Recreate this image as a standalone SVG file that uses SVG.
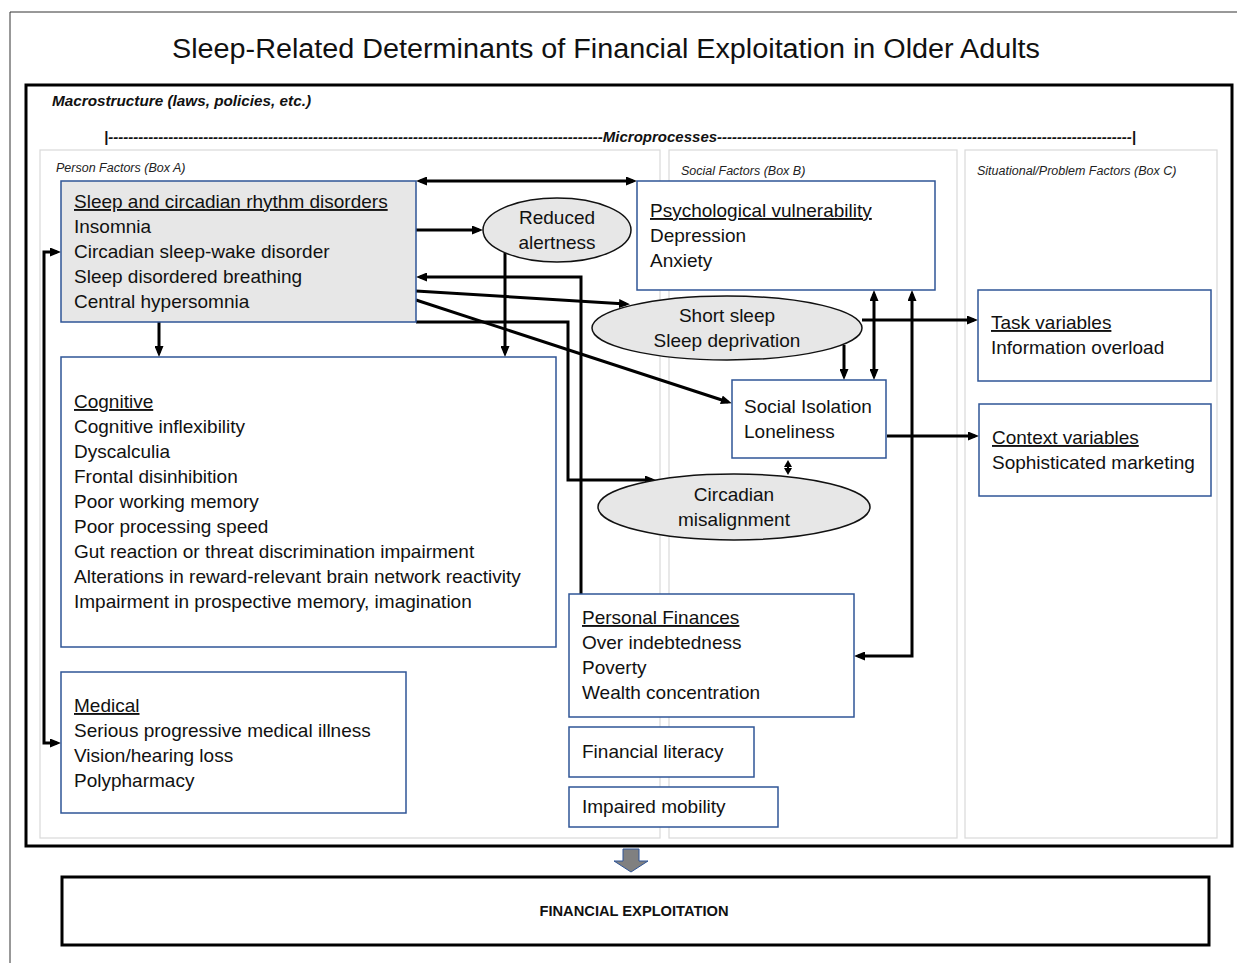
<svg xmlns="http://www.w3.org/2000/svg" width="1237" height="963" viewBox="0 0 1237 963">
<style>
.t{font-family:"Liberation Sans",Arial,sans-serif;font-size:19px;fill:#111}
.u{text-decoration:underline}
.c{text-anchor:middle}
.lab{font-family:"Liberation Sans",Arial,sans-serif;font-size:12.5px;font-style:italic;fill:#222}
.bi{font-family:"Liberation Sans",Arial,sans-serif;font-size:15px;font-style:italic;font-weight:bold;fill:#111}
.box{fill:#fff;stroke:#2f5597;stroke-width:1.5}
.gbox{fill:#e7e7e7;stroke:#2f5597;stroke-width:1.5}
.ell{fill:#e7e7e7;stroke:#111;stroke-width:1.5}
.panel{fill:none;stroke:#d9d9d9;stroke-width:1.2}
.con{fill:none;stroke:#000;stroke-width:3}
</style>
<defs>
<marker id="ah" markerUnits="userSpaceOnUse" markerWidth="11" markerHeight="9" refX="7" refY="4.5" orient="auto-start-reverse"><path d="M0,0 L11,4.5 L0,9 z" fill="#000"/></marker>
<marker id="sh" markerUnits="userSpaceOnUse" markerWidth="7" markerHeight="8" refX="4" refY="4" orient="auto-start-reverse"><path d="M0,0 L7,4 L0,8 z" fill="#000"/></marker>
</defs>
<rect width="1237" height="963" fill="#fff"/>
<path d="M10,963 V12 H1237" fill="none" stroke="#333" stroke-width="1"/>
<text x="606" y="58" class="t c" style="font-size:27px" textLength="868" lengthAdjust="spacingAndGlyphs">Sleep-Related Determinants of Financial Exploitation in Older Adults</text>
<rect x="26" y="85" width="1206" height="761" fill="none" stroke="#000" stroke-width="3"/>
<text x="52" y="106" class="bi" textLength="259" lengthAdjust="spacingAndGlyphs">Macrostructure (laws, policies, etc.)</text>
<text x="104" y="142" class="bi" textLength="1032" lengthAdjust="spacingAndGlyphs">|---------------------------------------------------------------------------------------------------Microprocesses-----------------------------------------------------------------------------------|</text>
<rect class="panel" x="40" y="150" width="620" height="688"/>
<rect class="panel" x="669" y="150" width="288" height="688"/>
<rect class="panel" x="965" y="150" width="252" height="688"/>
<text x="56" y="172" class="lab">Person Factors (Box A)</text>
<text x="681" y="175" class="lab">Social Factors (Box B)</text>
<text x="977" y="175" class="lab">Situational/Problem Factors (Box C)</text>

<g id="connectors">
<path class="con" d="M420,181 H633" marker-start="url(#ah)" marker-end="url(#ah)"/>
<path class="con" d="M416,230 H479" marker-end="url(#ah)"/>
<path class="con" d="M505,253 V353" marker-end="url(#ah)"/>
<path class="con" d="M581,594 V277 H420" marker-end="url(#ah)"/>
<path class="con" d="M416,322 H568 V480 H652" marker-end="url(#ah)"/>
<path class="con" d="M416,291 L626,304" marker-end="url(#ah)"/>
<path class="con" d="M416,300 L728,402" marker-end="url(#ah)"/>
<path class="con" d="M159,322 V353" marker-end="url(#ah)"/>
<path class="con" d="M57,252 H44 V743 H57" marker-start="url(#ah)" marker-end="url(#ah)"/>
<path class="con" d="M862,320 H974" marker-end="url(#ah)"/>
<path class="con" d="M844,345 V376" marker-end="url(#ah)"/>
<path class="con" d="M874,294 V376" marker-start="url(#ah)" marker-end="url(#ah)"/>
<path class="con" d="M912,294 V656 H858" marker-start="url(#ah)" marker-end="url(#ah)"/>
<path class="con" d="M887,436 H975" marker-end="url(#ah)"/>
<path class="con" style="stroke-width:2" d="M788,463 V472" marker-start="url(#sh)" marker-end="url(#sh)"/>
</g>

<g id="sleep">
<rect class="gbox" x="61" y="181" width="355" height="141"/>
<text class="t u" x="74" y="208">Sleep and circadian rhythm disorders</text>
<text class="t" x="74" y="233">Insomnia</text>
<text class="t" x="74" y="258">Circadian sleep-wake disorder</text>
<text class="t" x="74" y="283">Sleep disordered breathing</text>
<text class="t" x="74" y="308">Central hypersomnia</text>
</g>
<g id="reduced">
<ellipse class="ell" cx="557" cy="230" rx="74" ry="32"/>
<text class="t c" x="557" y="224">Reduced</text>
<text class="t c" x="557" y="249">alertness</text>
</g>
<g id="psych">
<rect class="box" x="637" y="181" width="298" height="109"/>
<text class="t u" x="650" y="217">Psychological vulnerability</text>
<text class="t" x="650" y="242">Depression</text>
<text class="t" x="650" y="267">Anxiety</text>
</g>
<g id="shortsleep">
<ellipse class="ell" cx="727" cy="328" rx="135" ry="32"/>
<text class="t c" x="727" y="322">Short sleep</text>
<text class="t c" x="727" y="347">Sleep deprivation</text>
</g>
<g id="isolation">
<rect class="box" x="732" y="380" width="154" height="78"/>
<text class="t" x="744" y="413">Social Isolation</text>
<text class="t" x="744" y="438">Loneliness</text>
</g>
<g id="circadian">
<ellipse class="ell" cx="734" cy="507" rx="136" ry="33"/>
<text class="t c" x="734" y="501">Circadian</text>
<text class="t c" x="734" y="526">misalignment</text>
</g>
<g id="cognitive">
<rect class="box" x="61" y="357" width="495" height="290"/>
<text class="t u" x="74" y="408">Cognitive</text>
<text class="t" x="74" y="433">Cognitive inflexibility</text>
<text class="t" x="74" y="458">Dyscalculia</text>
<text class="t" x="74" y="483">Frontal disinhibition</text>
<text class="t" x="74" y="508">Poor working memory</text>
<text class="t" x="74" y="533">Poor processing speed</text>
<text class="t" x="74" y="558">Gut reaction or threat discrimination impairment</text>
<text class="t" x="74" y="583">Alterations in reward-relevant brain network reactivity</text>
<text class="t" x="74" y="608">Impairment in prospective memory, imagination</text>
</g>
<g id="medical">
<rect class="box" x="61" y="672" width="345" height="141"/>
<text class="t u" x="74" y="712">Medical</text>
<text class="t" x="74" y="737">Serious progressive medical illness</text>
<text class="t" x="74" y="762">Vision/hearing loss</text>
<text class="t" x="74" y="787">Polypharmacy</text>
</g>
<g id="finances">
<rect class="box" x="569" y="594" width="285" height="123"/>
<text class="t u" x="582" y="624">Personal Finances</text>
<text class="t" x="582" y="649">Over indebtedness</text>
<text class="t" x="582" y="674">Poverty</text>
<text class="t" x="582" y="699">Wealth concentration</text>
</g>
<g id="literacy">
<rect class="box" x="569" y="727" width="185" height="50"/>
<text class="t" x="582" y="758">Financial literacy</text>
</g>
<g id="mobility">
<rect class="box" x="569" y="787" width="209" height="40"/>
<text class="t" x="582" y="813">Impaired mobility</text>
</g>
<g id="task">
<rect class="box" x="978" y="290" width="233" height="91"/>
<text class="t u" x="991" y="329">Task variables</text>
<text class="t" x="991" y="354">Information overload</text>
</g>
<g id="context">
<rect class="box" x="979" y="404" width="232" height="92"/>
<text class="t u" x="992" y="444">Context variables</text>
<text class="t" x="992" y="469">Sophisticated marketing</text>
</g>
<g id="blockarrow">
<polygon points="623,849 639,849 639,861 648,861 631,872 614,861 623,861" fill="#808080" stroke="#2f5597" stroke-width="1"/>
</g>
<g id="exploitation">
<rect x="62" y="877" width="1147" height="68" fill="#fff" stroke="#000" stroke-width="3"/>
<text x="634" y="916" class="t c" style="font-size:14px;font-weight:bold" textLength="189" lengthAdjust="spacingAndGlyphs">FINANCIAL EXPLOITATION</text>
</g>
</svg>
